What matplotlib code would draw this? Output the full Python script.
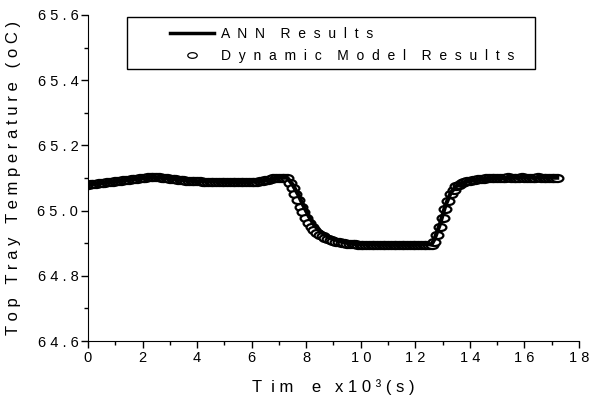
import numpy as np
import matplotlib
matplotlib.use("Agg")
import matplotlib.pyplot as plt
from matplotlib.path import Path
from matplotlib.patches import Rectangle
from matplotlib.ticker import MultipleLocator, FixedLocator

plt.rcParams['font.family'] = ['Liberation Sans', 'DejaVu Sans']

# Dynamic model results (time in 10^3 s, temperature in oC), sampled every 0.1
model_time = np.round(np.arange(0, 17.25, 0.1), 1)
model_temp = [
    65.080, 65.081, 65.082, 65.083, 65.084, 65.085, 65.086, 65.087, 65.088, 65.089,
    65.090, 65.091, 65.092, 65.093, 65.094, 65.095, 65.096, 65.097, 65.098, 65.099,
    65.100, 65.101, 65.102, 65.103, 65.103,
    65.103, 65.102, 65.101, 65.100, 65.099, 65.098, 65.097, 65.096, 65.095, 65.094,
    65.093, 65.092, 65.091, 65.091, 65.090, 65.090,
    65.090, 65.089, 65.089, 65.089, 65.089, 65.089, 65.088, 65.088, 65.088, 65.088,
    65.088, 65.088, 65.088, 65.088, 65.088, 65.088, 65.088, 65.088, 65.088, 65.088,
    65.088, 65.089, 65.090, 65.091, 65.093, 65.095, 65.097, 65.099, 65.100, 65.101,
    65.101, 65.101, 65.100,
    65.085, 65.068, 65.050, 65.032, 65.012, 64.995, 64.978, 64.963, 64.950, 64.940,
    64.932, 64.926, 64.921, 64.917, 64.913, 64.910, 64.907, 64.905, 64.903, 64.901,
    64.900, 64.899, 64.898, 64.897, 64.897, 64.896,
    64.896, 64.896, 64.896, 64.895, 64.895, 64.895, 64.895, 64.895, 64.895, 64.895,
    64.895, 64.895, 64.895, 64.895, 64.895, 64.895, 64.895, 64.895, 64.895, 64.895,
    64.895, 64.895, 64.895, 64.896, 64.896, 64.896, 64.896,
    64.905, 64.925, 64.950, 64.978, 65.005, 65.030, 65.050, 65.064, 65.074, 65.080,
    65.084, 65.087, 65.090, 65.092,
    65.094, 65.095, 65.096, 65.097, 65.098, 65.099, 65.099, 65.100, 65.100, 65.101,
    65.101, 65.101, 65.101, 65.102, 65.101, 65.101, 65.101, 65.101, 65.102, 65.101,
    65.101, 65.101, 65.101, 65.101, 65.102, 65.101, 65.101, 65.101, 65.101, 65.101,
    65.101, 65.101,
]

# ANN results
ann_time = [0, 0.5, 1, 1.5, 2, 2.4, 3, 3.5, 4, 5, 6, 6.5, 7, 7.3, 7.5, 7.7, 7.9,
            8.1, 8.3, 8.5, 8.8, 9.2, 9.6, 10, 11, 12, 12.6, 12.7, 12.9, 13.1,
            13.3, 13.5, 13.7, 14, 14.5, 15, 16, 17.2]
ann_temp = [65.080, 65.085, 65.090, 65.095, 65.100, 65.103, 65.098, 65.093, 65.090,
            65.088, 65.088, 65.093, 65.101, 65.101, 65.080, 65.050, 65.015,
            64.982, 64.955, 64.937, 64.920, 64.907, 64.899, 64.896, 64.895, 64.895,
            64.897, 64.912, 64.958, 65.015, 65.055, 65.075, 65.085, 65.092, 65.097,
            65.100, 65.101, 65.101]

x_ticks = [0, 2, 4, 6, 8, 10, 12, 14, 16, 18]
y_ticks = [64.6, 64.8, 65.0, 65.2, 65.4, 65.6]

def spaced(s, gap="  ", word_gap="    "):
    # wide letter spacing like the original figure
    return word_gap.join(gap.join(w) for w in s.split(" "))

# flattened circle marker, like the original
circ = Path.unit_circle()
ellipse = Path(circ.vertices * np.array([1.0, 0.6]), circ.codes)

fig = plt.figure(figsize=(5.89, 4.03), dpi=100)
ax = fig.add_axes([0.1494, 0.1538, 0.8336, 0.809])

ax.plot(model_time, model_temp, linestyle="none", marker=ellipse, markersize=8.5,
        markerfacecolor="white", markeredgecolor="black", markeredgewidth=1.6,
        label=spaced("Dynamic Model Results"))
ax.plot(ann_time, ann_temp, color="black", linewidth=3, label=spaced("ANN Results"))

ax.set_xlim(0, 18)
ax.set_ylim(64.6, 65.6)
ax.xaxis.set_major_locator(FixedLocator(x_ticks))
ax.yaxis.set_major_locator(FixedLocator(y_ticks))
ax.xaxis.set_minor_locator(MultipleLocator(1))
ax.yaxis.set_minor_locator(MultipleLocator(0.1))
ax.set_xticklabels([spaced(str(v), " ") for v in x_ticks])
ax.set_yticklabels([spaced(f"{v:.1f}", " ") for v in y_ticks])

ax.spines["top"].set_visible(False)
ax.spines["right"].set_visible(False)
ax.tick_params(which="major", direction="out", length=5, width=1, labelsize=10.5, pad=2)
ax.tick_params(which="minor", direction="out", length=3, width=1)

ax.set_xlabel("T  i m    e   x 1 0 ³ ( s )", fontsize=12, labelpad=10)
ax.set_ylabel(spaced("Top Tray Temperature (oC)", " ", "   "), fontsize=12, labelpad=12)

# legend box drawn by hand (the original has a wide left margin)
fig.patches.append(Rectangle((127 / 589, 1 - 69 / 403), 408 / 589, 52 / 403,
                             transform=fig.transFigure, facecolor="white",
                             edgecolor="black", linewidth=1, zorder=5))
handles, labels = ax.get_legend_handles_labels()
leg = fig.legend(handles[::-1], labels[::-1], loc="upper left",
                 bbox_to_anchor=(170 / 589, 1 - 27 / 403), frameon=False,
                 fontsize=10, handlelength=3.2, handletextpad=0.5, borderpad=0,
                 labelspacing=0.6, borderaxespad=0, markerscale=0.8)
leg.set_zorder(6)
leg_lines = leg.get_lines()
leg_lines[0].set_linewidth(2.5)
leg_lines[1].set_markeredgewidth(0.9)

fig.savefig("out.png", dpi=100)
